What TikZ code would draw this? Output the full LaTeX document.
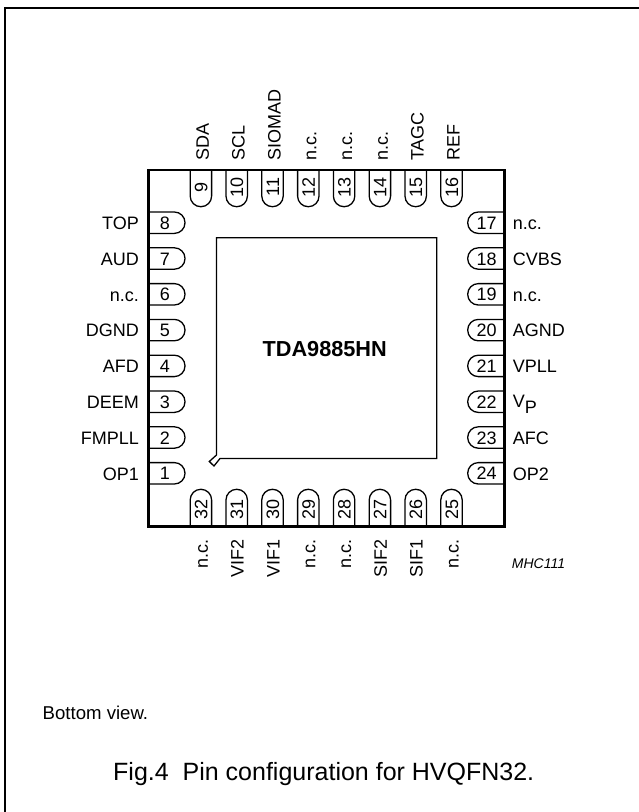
\documentclass[tikz,border=0pt]{standalone}
\usepackage{fontspec}
\setmainfont{Liberation Sans}
\tikzset{
  pinline/.style={line width=1.3pt,rounded corners=10.6pt},
  lab/.style={inner sep=0pt,font=\fontsize{18}{18}\selectfont},
  num/.style={inner sep=0pt,font=\fontsize{18}{18}\selectfont},
}
\begin{document}
\begin{tikzpicture}[x=1pt,y=-1pt]
\useasboundingbox (0,0) rectangle (639,812);
% outer frame
\draw[line width=1.5pt] (5,812) -- (5,8) -- (639,8);
% left pins
\foreach \n/\t [count=\i from 0] in {8/TOP,7/AUD,6/n.c.,5/DGND,4/AFD,3/DEEM,2/FMPLL,1/OP1}{
  \pgfmathsetmacro\yy{222.7+35.8*\i}
  \draw[pinline] (148,\yy-10.7) -- (185,\yy-10.7) -- (185,\yy+10.7) -- (148,\yy+10.7);
  \node[num,anchor=base] (p\n) at (165,\yy+6.5) {\n};
  \node[lab,anchor=base east] (l\n) at (139,\yy+6.8) {\t};
}
% right pins
\foreach \n/\t [count=\i from 0] in {17/n.c.,18/CVBS,19/n.c.,20/AGND,21/VPLL,23/AFC,24/OP2}{
  \pgfmathsetmacro\yy{222.7+35.8*(\n-17)}
  \draw[pinline] (504,\yy-10.7) -- (467.7,\yy-10.7) -- (467.7,\yy+10.7) -- (504,\yy+10.7);
  \node[num,anchor=base] (p\n) at (486.7,\yy+6.5) {\n};
  \node[lab,anchor=base west] (l\n) at (512.7,\yy+6.8) {\t};
}
\draw[pinline] (504,391) -- (467.7,391) -- (467.7,412.4) -- (504,412.4);
\node[num,anchor=base] (p22) at (486.7,408.2) {22};
\node[lab,anchor=base west] (l22) at (512.7,407) {V\raisebox{-6.5pt}{P}};
% top pins
\foreach \n/\t [count=\i from 0] in {9/SDA,10/SCL,11/SIOMAD,12/n.c.,13/n.c.,14/n.c.,15/TAGC,16/REF}{
  \pgfmathsetmacro\xx{200.9+35.8*\i}
  \draw[pinline] (\xx-10.7,170) -- (\xx-10.7,206.7) -- (\xx+10.7,206.7) -- (\xx+10.7,170);
  \node[num,anchor=base,rotate=90] (p\n) at (\xx+6.5,187) {\n};
  \node[lab,anchor=base west,rotate=90] (l\n) at (\xx+8,161) {\t};
}
% bottom pins
\foreach \n/\t [count=\i from 0] in {32/n.c.,31/VIF2,30/VIF1,29/n.c.,28/n.c.,27/SIF2,26/SIF1,25/n.c.}{
  \pgfmathsetmacro\xx{200.9+35.8*\i}
  \draw[pinline] (\xx-10.7,526.5) -- (\xx-10.7,489.3) -- (\xx+10.7,489.3) -- (\xx+10.7,526.5);
  \node[num,anchor=base,rotate=90] (p\n) at (\xx+6.5,509) {\n};
  \node[lab,anchor=base east,rotate=90] (l\n) at (\xx+7,539) {\t};
}
% package outline
\draw[line width=2.6pt,line join=miter] (148.4,170) rectangle (504.3,526.6);
% die with pin 1 mark
\draw[line width=1.3pt,line join=miter] (216.5,455) -- (216.5,237.7) -- (436.7,237.7) -- (436.7,458.5) -- (220,458.5) -- (214,466) -- (209.3,461.5) -- cycle;
\node[inner sep=0pt,anchor=base,font=\fontsize{21.7}{22}\selectfont\bfseries] (chip) at (324.7,356) {TDA9885HN};
\node[inner sep=0pt,anchor=base west,font=\fontsize{14}{14}\selectfont\itshape] (code) at (511.7,568) {MHC111};
\node[inner sep=0pt,anchor=base west,font=\fontsize{18.6}{19}\selectfont] (view) at (42.5,719) {Bottom view.};
\node[inner sep=0pt,anchor=base west,font=\fontsize{25}{25}\selectfont] (cap) at (113,780) {Fig.4\ \ Pin configuration for HVQFN32.};
\end{tikzpicture}
\end{document}
